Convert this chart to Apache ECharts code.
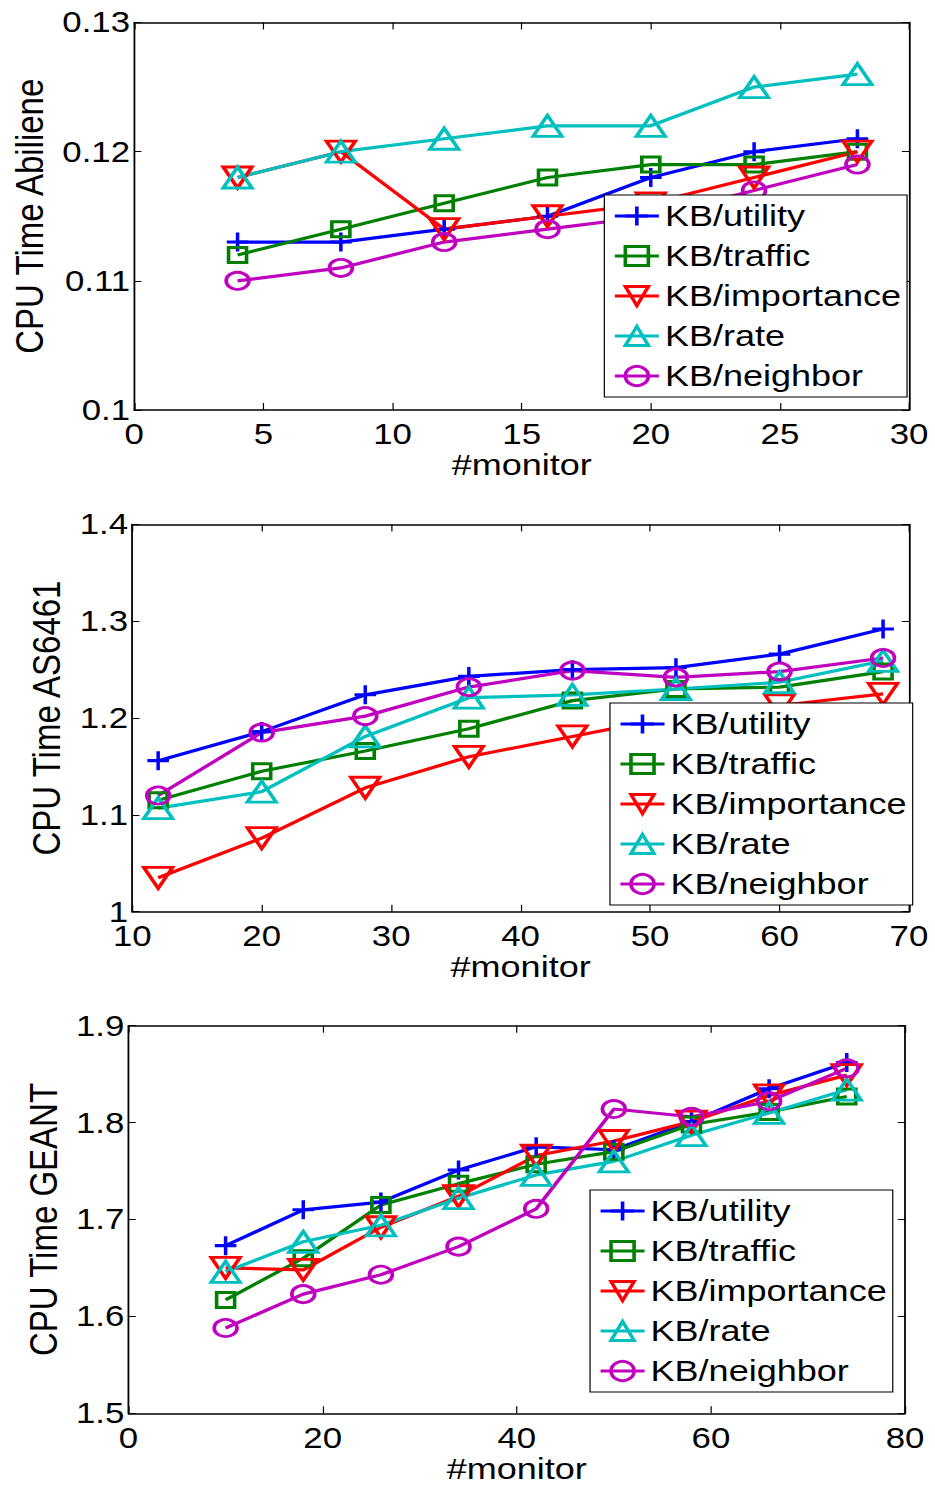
<!DOCTYPE html>
<html>
<head>
<meta charset="utf-8">
<title>CPU Time vs #monitor</title>
<script src="https://cdn.jsdelivr.net/npm/echarts@6/dist/echarts.min.js"></script>
<style>
  html, body { margin: 0; padding: 0; background: #fff; overflow: hidden; }
  /* the figure is laid out 779px wide and stretched horizontally to fill 935px */
  #chart { width: 779px; height: 1485px; transform: scaleX(1.20026); transform-origin: 0 0; }
</style>
</head>
<body>
<div id="chart"></div>
<script>
// ---- data ----
const seriesNames = ['KB/utility', 'KB/traffic', 'KB/importance', 'KB/rate', 'KB/neighbor'];
const seriesColors = ['#0000FF', '#008000', '#FF0000', '#00BFBF', '#BF00BF'];

// Abiliene
const monitorsAbiliene   = [4, 8, 12, 16, 20, 24, 28];
const utilityAbiliene    = [0.113, 0.113, 0.114, 0.115, 0.118, 0.120, 0.121];
const trafficAbiliene    = [0.112, 0.114, 0.116, 0.118, 0.119, 0.119, 0.120];
const importanceAbiliene = [0.118, 0.120, 0.114, 0.115, 0.116, 0.118, 0.120];
const rateAbiliene       = [0.118, 0.120, 0.121, 0.122, 0.122, 0.125, 0.126];
const neighborAbiliene   = [0.110, 0.111, 0.113, 0.114, 0.115, 0.117, 0.119];

// AS6461
const monitorsAS6461   = [12, 20, 28, 36, 44, 52, 60, 68];
const utilityAS6461    = [1.156, 1.186, 1.224, 1.243, 1.250, 1.252, 1.266, 1.292];
const trafficAS6461    = [1.115, 1.145, 1.166, 1.189, 1.218, 1.230, 1.232, 1.248];
const importanceAS6461 = [1.035, 1.076, 1.128, 1.160, 1.181, 1.202, 1.213, 1.225];
const rateAS6461       = [1.107, 1.124, 1.181, 1.221, 1.224, 1.230, 1.237, 1.259];
const neighborAS6461   = [1.120, 1.185, 1.202, 1.232, 1.249, 1.242, 1.248, 1.262];

// GEANT
const monitorsGEANT   = [10, 18, 26, 34, 42, 50, 58, 66, 74];
const utilityGEANT    = [1.673, 1.710, 1.718, 1.751, 1.775, 1.772, 1.801, 1.835, 1.862];
const trafficGEANT    = [1.617, 1.660, 1.715, 1.737, 1.757, 1.770, 1.798, 1.811, 1.827];
const importanceGEANT = [1.650, 1.648, 1.692, 1.724, 1.766, 1.781, 1.801, 1.828, 1.849];
const rateGEANT       = [1.646, 1.677, 1.694, 1.722, 1.746, 1.760, 1.787, 1.810, 1.834];
const neighborGEANT   = [1.588, 1.623, 1.643, 1.672, 1.711, 1.814, 1.806, 1.822, 1.856];

// axis ranges and tick steps
const xTicksAbiliene = { min: 0,  max: 30, interval: 5 };
const yTicksAbiliene = { min: 0.1, max: 0.13, interval: 0.01 };
const xTicksAS6461   = { min: 10, max: 70, interval: 10 };
const yTicksAS6461   = { min: 1.0, max: 1.4, interval: 0.1 };
const xTicksGEANT    = { min: 0,  max: 80, interval: 20 };
const yTicksGEANT    = { min: 1.5, max: 1.9, interval: 0.1 };

const xAxisTitle = '#monitor';
const yAxisTitles = ['CPU Time Abiliene', 'CPU Time AS6461', 'CPU Time GEANT'];

// ---- styling ----
const FONT = '"Liberation Sans", Arial, Helvetica, sans-serif';
const SYMBOLS = [
  'path://M0,10L20,10M10,0L10,20',   // plus
  'rect',
  'path://M0,0L20,0L10,18Z',         // downward triangle
  'triangle',
  'circle'
];
const SYMBOL_SIZES = [[18, 19], [15, 15], [24, 21], [24, 21], [19, 17]];

const panels = [
  { grid: { left: 109.6, top: 22.5, width: 647.8, height: 387.5 },
    legend: { left: 503.5, top: 195 }, xr: xTicksAbiliene, yr: yTicksAbiliene, nameGap: 69,
    xs: monitorsAbiliene,
    ys: [utilityAbiliene, trafficAbiliene, importanceAbiliene, rateAbiliene, neighborAbiliene] },
  { grid: { left: 110.2, top: 524.4, width: 647.1, height: 387.3 },
    legend: { left: 508.2, top: 703 }, xr: xTicksAS6461, yr: yTicksAS6461, nameGap: 53,
    xs: monitorsAS6461,
    ys: [utilityAS6461, trafficAS6461, importanceAS6461, rateAS6461, neighborAS6461] },
  { grid: { left: 107.1, top: 1025.7, width: 646.9, height: 387.6 },
    legend: { left: 491.6, top: 1190 }, xr: xTicksGEANT, yr: yTicksGEANT, nameGap: 52.4,
    xs: monitorsGEANT,
    ys: [utilityGEANT, trafficGEANT, importanceGEANT, rateGEANT, neighborGEANT] }
];

const axisLine = { show: true, onZero: false, lineStyle: { color: '#000', width: 1.5 } };
const labelStyle = { color: '#000', fontFamily: FONT, fontSize: 29 };

const grids = [], xAxes = [], yAxes = [], legends = [], series = [];

panels.forEach((p, i) => {
  grids.push(Object.assign({ containLabel: false }, p.grid));

  // bottom axis with labels, top axis as a mirrored frame with ticks only
  xAxes.push({
    gridIndex: i, type: 'value', position: 'bottom',
    min: p.xr.min, max: p.xr.max, interval: p.xr.interval,
    name: xAxisTitle, nameLocation: 'middle', nameGap: 39.5,
    nameTextStyle: { color: '#000', fontFamily: FONT, fontSize: 30 },
    axisLine, axisTick: { show: true, inside: true, length: 7, lineStyle: { color: '#000', width: 1 } },
    axisLabel: Object.assign({ margin: 10 }, labelStyle),
    splitLine: { show: false }
  });
  xAxes.push({
    gridIndex: i, type: 'value', position: 'top',
    min: p.xr.min, max: p.xr.max, interval: p.xr.interval,
    axisLine, axisTick: { show: true, inside: true, length: 7, lineStyle: { color: '#000', width: 1 } },
    axisLabel: { show: false }, splitLine: { show: false }
  });

  yAxes.push({
    gridIndex: i, type: 'value', position: 'left',
    min: p.yr.min, max: p.yr.max, interval: p.yr.interval,
    name: yAxisTitles[i], nameLocation: 'middle', nameGap: p.nameGap,
    nameTextStyle: { color: '#000', fontFamily: FONT, fontSize: 33 },
    axisLine, axisTick: { show: true, inside: true, length: 6, lineStyle: { color: '#000', width: 1 } },
    axisLabel: Object.assign({ margin: 3.5 }, labelStyle),
    splitLine: { show: false }
  });
  yAxes.push({
    gridIndex: i, type: 'value', position: 'right',
    min: p.yr.min, max: p.yr.max, interval: p.yr.interval,
    axisLine, axisTick: { show: true, inside: true, length: 6, lineStyle: { color: '#000', width: 1 } },
    axisLabel: { show: false }, splitLine: { show: false }
  });

  legends.push({
    data: seriesNames, orient: 'vertical',
    left: p.legend.left, top: p.legend.top,
    itemWidth: 36.7, itemHeight: 24, itemGap: 10,
    padding: [6, 5, 6, 7.25],
    backgroundColor: '#fff', borderColor: '#000', borderWidth: 1,
    selectedMode: false,
    textStyle: { color: '#000', fontFamily: FONT, fontSize: 30, lineHeight: 30 },
    lineStyle: { width: 3 },
    itemStyle: { borderWidth: 3 }
  });

  seriesNames.forEach((name, k) => {
    series.push({
      type: 'line', name,
      xAxisIndex: 2 * i, yAxisIndex: 2 * i,
      data: p.xs.map((x, j) => [x, p.ys[k][j]]),
      symbol: SYMBOLS[k], symbolSize: SYMBOL_SIZES[k],
      showSymbol: true, clip: false,
      lineStyle: { color: seriesColors[k], width: 3.2 },
      itemStyle: { color: 'rgba(0,0,0,0)', borderColor: seriesColors[k], borderWidth: 3 },
      emphasis: { disabled: true }
    });
  });
});

const chart = echarts.init(document.getElementById('chart'), null, { renderer: 'svg' });
chart.setOption({
  animation: false,
  backgroundColor: '#fff',
  grid: grids, xAxis: xAxes, yAxis: yAxes,
  legend: legends, series
});
</script>
</body>
</html>
